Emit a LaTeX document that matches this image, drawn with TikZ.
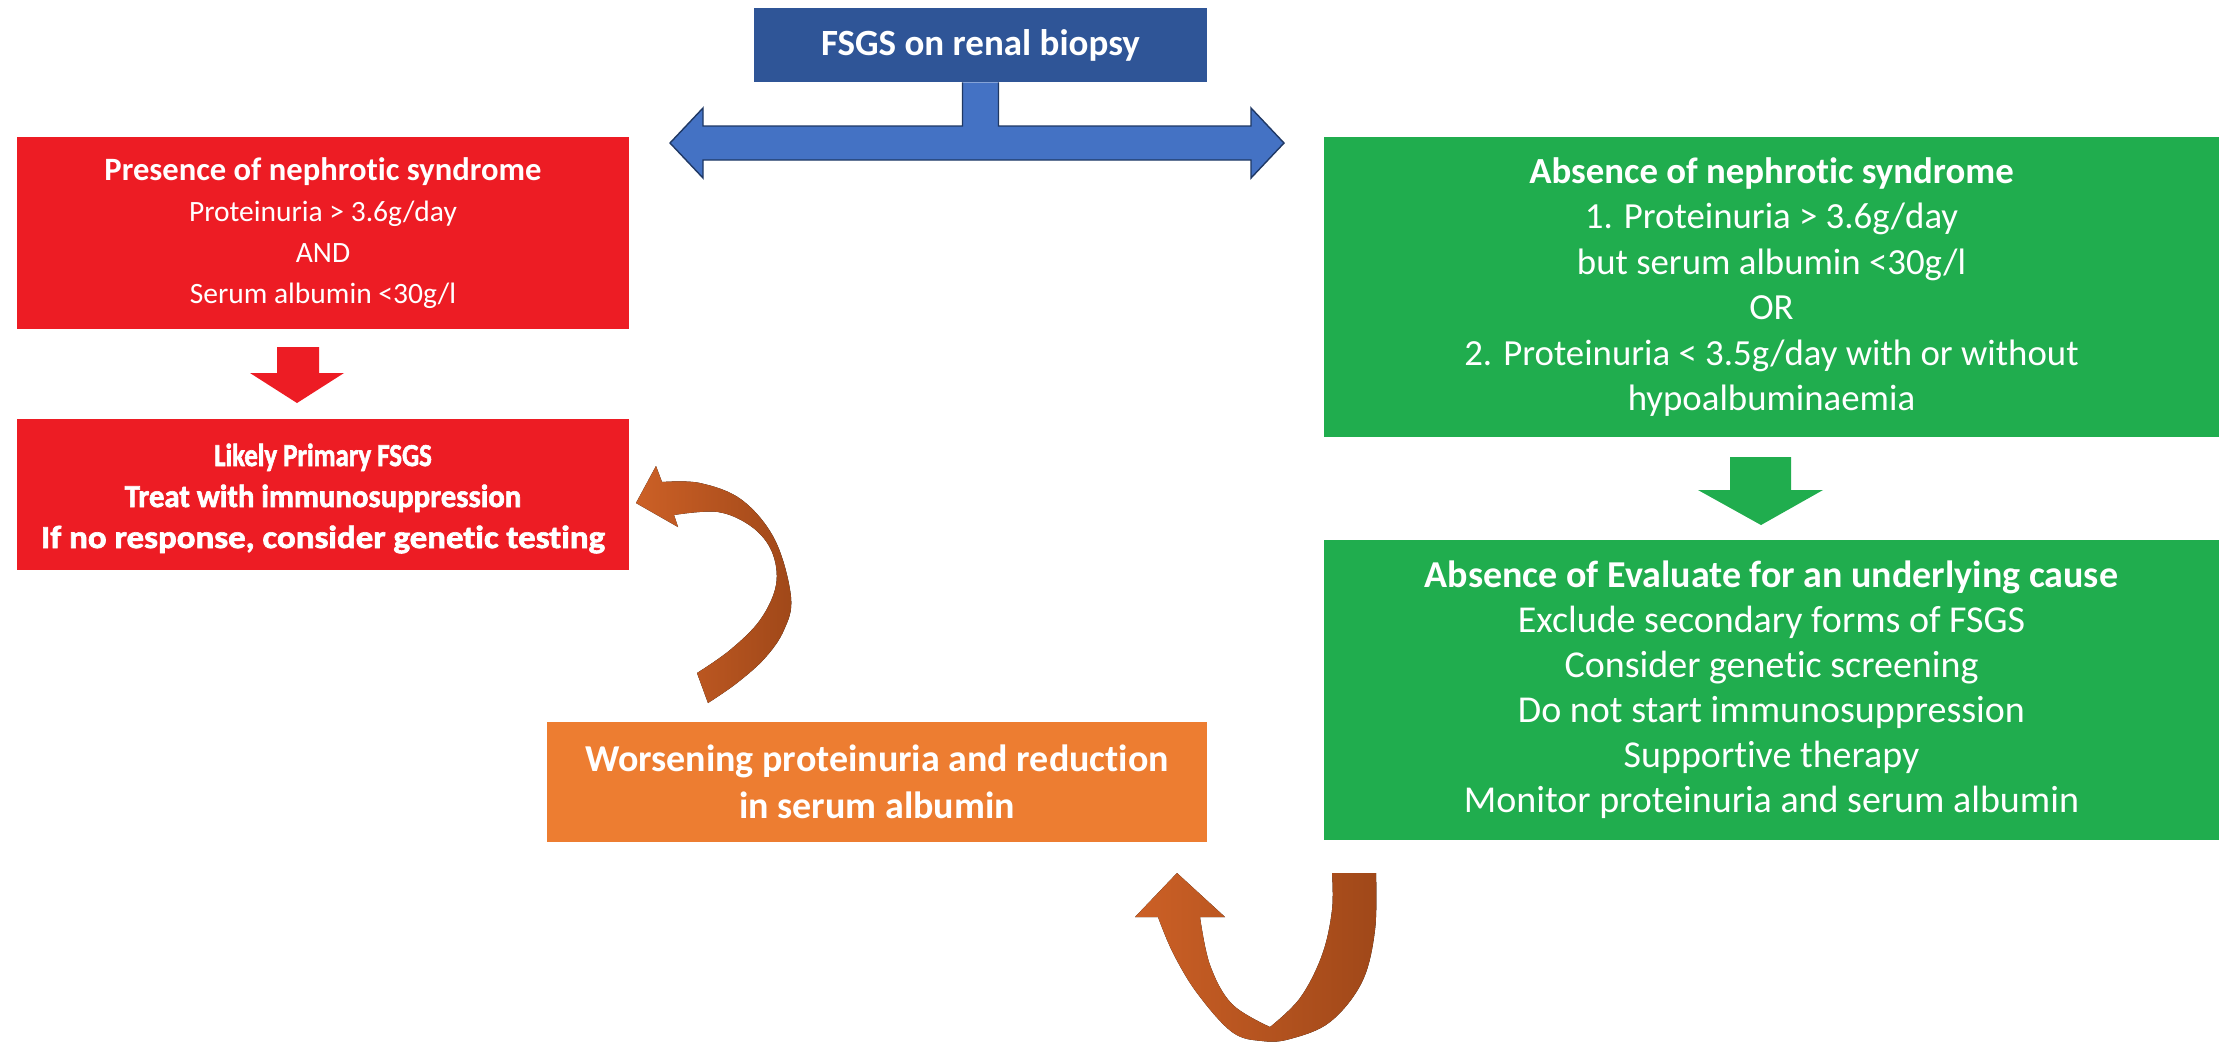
\documentclass[tikz,border=0pt]{standalone}
\usepackage{graphicx}
\usepackage{fontspec}
\setmainfont{Carlito}[Ligatures=NoCommon]
\newfontfamily\heavyfont{Carlito Bold}[FakeBold=2, Ligatures=NoCommon]
\usetikzlibrary{calc}

\definecolor{boxred}{HTML}{ED1C24}
\definecolor{boxgreen}{HTML}{20AD4E}
\definecolor{boxorange}{HTML}{ED7D31}
\definecolor{boxblue}{HTML}{2F5597}
\definecolor{arrowblue}{HTML}{4472C4}
\definecolor{arrowedge}{HTML}{1F3864}
\definecolor{loopA}{HTML}{CC6026}
\definecolor{loopB}{HTML}{A04819}

\begin{document}
\begin{tikzpicture}[x=0.5pt,y=-0.5pt,
  box/.style={rectangle, inner sep=0pt, text=white, align=center},
  loopfill/.style={left color=loopA, right color=loopB}]
\useasboundingbox (0,0) rectangle (2231,1041);
\fill[white] (0,0) rectangle (2231,1041);

% ---- boxes ----
\node[box, fill=boxblue, minimum width=226.5pt, minimum height=37pt,
      font=\fontsize{18.5pt}{22pt}\selectfont\bfseries] (biopsy) at (980.5,45)
  {FSGS on renal biopsy};

\node[box, fill=boxred, minimum width=306pt, minimum height=96pt,
      font=\fontsize{14.75pt}{20.5pt}\selectfont] (nephrotic) at (323,233)
  {{\fontsize{16.3pt}{20.5pt}\selectfont\bfseries Presence of nephrotic syndrome}\\
   Proteinuria > 3.6g/day\\
   AND\\
   Serum albumin <30g/l};

\node[box, minimum width=306pt, minimum height=75.5pt, fill=boxred] (primary) at (323,494.5) {};
\node[box, font=\fontsize{16pt}{20.5pt}\heavyfont] (primarytext) at ($(primary.center)+(0,4)$)
  {\scalebox{0.84}[1]{Likely Primary FSGS}\\
   \scalebox{0.96}[1]{Treat with immunosuppression}\\
   \scalebox{1.09}[1]{If no response, consider genetic testing}};

\node[box, fill=boxgreen, minimum width=447.5pt, minimum height=150pt,
      font=\fontsize{18.4pt}{22.75pt}\selectfont] (absence) at (1771.5,287)
  {{\bfseries Absence of nephrotic syndrome}\\
   1. Proteinuria > 3.6g/day\\
   but serum albumin <30g/l\\
   OR\\
   2. Proteinuria < 3.5g/day with or without\\
   hypoalbuminaemia};

\node[box, fill=boxgreen, minimum width=447.5pt, minimum height=150pt,
      font=\fontsize{19pt}{22.5pt}\selectfont] (evaluate) at (1771.5,690)
  {{\bfseries Absence of Evaluate for an underlying cause}\\
   Exclude secondary forms of FSGS\\
   Consider genetic screening\\
   Do not start immunosuppression\\
   Supportive therapy\\
   Monitor proteinuria and serum albumin};

\node[box, fill=boxorange, minimum width=330pt, minimum height=60pt,
      font=\fontsize{19pt}{23.5pt}\selectfont\bfseries] (worsening) at (877,782)
  {Worsening proteinuria and reduction\\
   in serum albumin};

% ---- double-headed block arrow from the biopsy box ----
\filldraw[fill=arrowblue, draw=arrowedge, line width=0.7pt, line join=miter]
  ($(biopsy.south)+(-18,0)$) -- (962.5,126) -- (703,126) -- (703,108) -- (670,143)
  -- (703,178) -- (703,160) -- (1251,160) -- (1251,178) -- (1284,143)
  -- (1251,108) -- (1251,126) -- (998.5,126) -- ($(biopsy.south)+(18,0)$);

% ---- down block arrows ----
\fill[boxred] (277,347) -- (319,347) -- (319,373) -- (344,373) -- (297,403)
  -- (250,373) -- (277,373) -- cycle;
\fill[boxgreen] (1730,457) -- (1791,457) -- (1791,490) -- (1823,490) -- (1761,525)
  -- (1698,490) -- (1730,490) -- cycle;

% ---- curved arrow: worsening -> back to primary FSGS ----
\fill[loopfill] (636,503) -- (656,466)
  -- plot[smooth, tension=0.6] coordinates {(662,482) (700,483) (742,500) (775,540)
       (791,597) (784,630) (765,658) (737,683) (708,703)}
  -- (697,673)
  -- plot[smooth, tension=0.6] coordinates {(697,673) (730,650) (760,620) (776,585)
       (772,552) (752,527) (718,512) (674,515)}
  -- (678,527) -- cycle;

% ---- U-shaped arrow: evaluate -> worsening ----
\fill[loopfill] (1177,873) -- (1225,917) -- (1200,917)
  -- plot[smooth, tension=0.6] coordinates {(1200,917) (1210,965) (1232,1004) (1270,1027)}
  -- plot[smooth, tension=0.6] coordinates {(1270,1027) (1300,998) (1322,955) (1332,910) (1332,873)}
  -- (1376,873)
  -- plot[smooth, tension=0.6] coordinates {(1376,873) (1375,930) (1362,982) (1330,1022)
       (1290,1039) (1262,1041) (1232,1032) (1197,993) (1173,953) (1158,917)}
  -- (1135,917) -- cycle;
\end{tikzpicture}
\end{document}
